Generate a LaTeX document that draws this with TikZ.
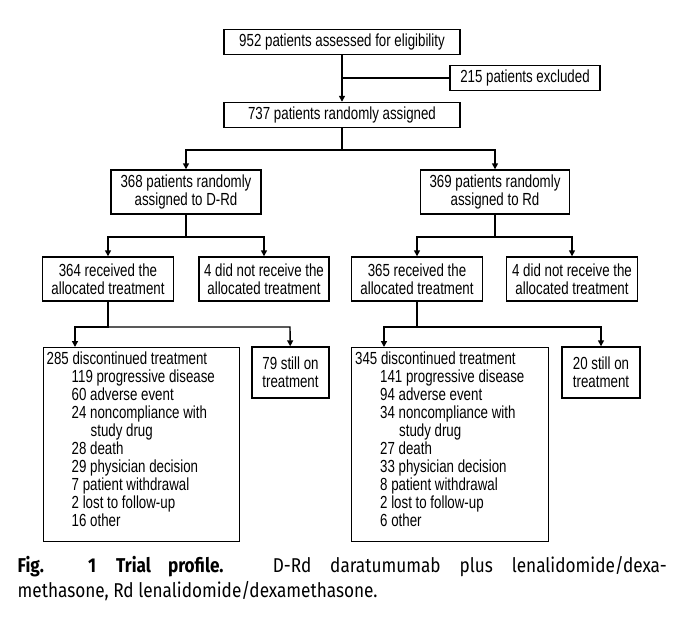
\documentclass[tikz,border=0pt]{standalone}
\usepackage{fontspec}
\setmainfont{Liberation Sans}[FakeStretch=0.76]
\newfontfamily\capfont{Fira Sans}[FakeStretch=0.86]
\usetikzlibrary{arrows.meta}
\begin{document}
\begin{tikzpicture}[x=1pt,y=-1pt,line width=1.4pt,
  box/.style={draw,inner sep=0pt,align=center,font=\fontsize{17.5}{18}\selectfont},
  arr/.style={-{Triangle[length=6pt,width=6pt]}}]
\useasboundingbox (0,0) rectangle (680,616);
\node [box,minimum width=236,minimum height=25] (elig) at (342,42) {952 patients assessed for eligibility};
\node [box,minimum width=150,minimum height=25] (excl) at (525,78) {215 patients excluded};
\node [box,minimum width=236,minimum height=25] (rand) at (342,115) {737 patients randomly assigned};
\node [box,minimum width=150,minimum height=44] (drd) at (186,192) {368 patients randomly\\assigned to D-Rd};
\node [box,minimum width=149,minimum height=44] (rd) at (495,192) {369 patients randomly\\assigned to Rd};
\node [box,minimum width=131,minimum height=44] (recA) at (108,279) {364 received the\\allocated treatment};
\node [box,minimum width=130,minimum height=44] (notA) at (264,279) {4 did not receive the\\allocated treatment};
\node [box,minimum width=131,minimum height=44] (recB) at (417,279) {365 received the\\allocated treatment};
\node [box,minimum width=131,minimum height=44] (notB) at (572,279) {4 did not receive the\\allocated treatment};
\node [box,minimum width=196,minimum height=194,align=left,anchor=north west] (discA) at (43,347) {\begin{minipage}[t][190pt]{190pt}\vspace{2pt}285 discontinued treatment\\
\hspace*{25pt}119 progressive disease\\\hspace*{25pt}60 adverse event\\\hspace*{25pt}24 noncompliance with\\\hspace*{44pt}study drug\\\hspace*{25pt}28 death\\\hspace*{25pt}29 physician decision\\\hspace*{25pt}7 patient withdrawal\\\hspace*{25pt}2 lost to follow-up\\\hspace*{25pt}16 other\end{minipage}};
\node [box,minimum width=77,minimum height=51] (stillA) at (290.5,372.5) {79 still on\\treatment};
\node [box,minimum width=197,minimum height=194,align=left,anchor=north west] (discB) at (351,347) {\begin{minipage}[t][190pt]{190pt}\vspace{2pt}345 discontinued treatment\\
\hspace*{25pt}141 progressive disease\\\hspace*{25pt}94 adverse event\\\hspace*{25pt}34 noncompliance with\\\hspace*{44pt}study drug\\\hspace*{25pt}27 death\\\hspace*{25pt}33 physician decision\\\hspace*{25pt}8 patient withdrawal\\\hspace*{25pt}2 lost to follow-up\\\hspace*{25pt}6 other\end{minipage}};
\node [box,minimum width=78,minimum height=51] (stillB) at (601,372.5) {20 still on\\treatment};
% connectors
\draw [arr] (elig) -- (rand);
\draw (excl.west) -- (342,78);
\draw [arr] (rand.south) |- (186,150) -- (drd);
\draw [arr] (rand.south) |- (495,150) -- (rd);
\draw [arr] (drd.south) |- (108,237) -- (recA);
\draw [arr] (drd.south) |- (264,237) -- (notA);
\draw [arr] (rd.south) |- (417,237) -- (recB);
\draw [arr] (rd.south) |- (572,237) -- (notB);
\draw [arr] (recA.south) |- (75,327) -- (75,347);
\draw [arr] (recA.south) |- (290,327) -- (stillA);
\draw [arr] (recB.south) |- (384,327) -- (384,347);
\draw [arr] (recB.south) |- (601,327) -- (stillB);
\node [anchor=north west,text width=649,align=justify,inner sep=0pt,font=\capfont\fontsize{20}{25}\selectfont] (cap) at (17,556)
  {\textbf{Fig. 1\quad Trial profile.} D-Rd daratumumab plus lenalidomide/dexa-\linebreak methasone, Rd lenalidomide/dexamethasone.};
\end{tikzpicture}
\end{document}
